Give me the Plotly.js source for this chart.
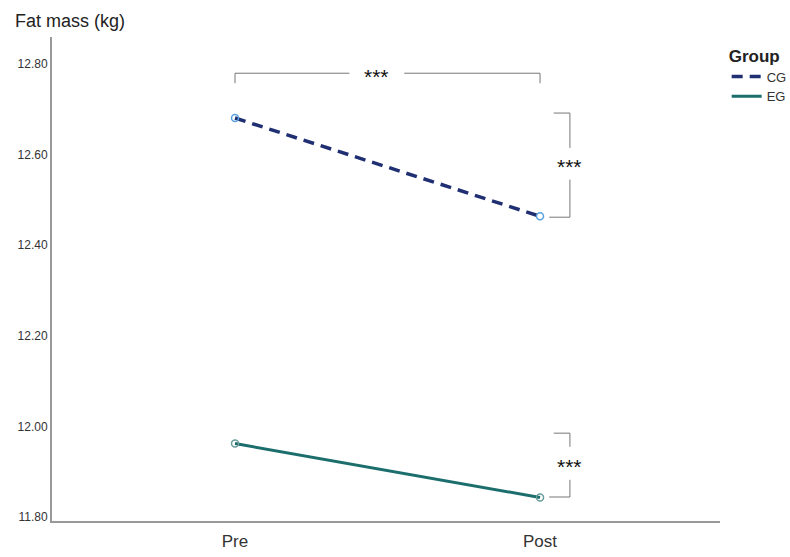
<!DOCTYPE html>
<html>
<head>
<meta charset="utf-8">
<script src="https://cdn.plot.ly/plotly-3.0.1.min.js"></script>
<style>html,body{margin:0;padding:0;background:#fff;}#chart{width:790px;height:557px;}</style>
</head>
<body>
<div id="chart"></div>
<script>
const timepoints = ["Pre", "Post"];
const groups = ["CG", "EG"];
const cgValues = [12.681, 12.464];
const egValues = [11.962, 11.843];
const yTickVals = [11.80, 12.00, 12.20, 12.40, 12.60, 12.80];
const yTickText = ["11.80", "12.00", "12.20", "12.40", "12.60", "12.80"];
const sigLabel = "***";

const font = "Liberation Sans, Arial, sans-serif";
const cgLine = {color: "#1f2f72", width: 3.5, dash: "11px,7px"};
const egLine = {color: "#1b6e6c", width: 3};

const traces = [
  {x: [0, 1], y: cgValues, name: groups[0], type: "scatter", mode: "lines", line: cgLine},
  {x: [0, 1], y: egValues, name: groups[1], type: "scatter", mode: "lines", line: egLine},
  {x: [0, 1], y: cgValues, name: groups[0], type: "scatter", mode: "markers", showlegend: false,
   marker: {symbol: "circle-open", size: 7, color: "#5aa0e0", line: {width: 1.5}}},
  {x: [0, 1], y: egValues, name: groups[1], type: "scatter", mode: "markers", showlegend: false,
   marker: {symbol: "circle-open", size: 7, color: "#6a9c9c", line: {width: 1.5}}}
];

const lc = {color: "#777", width: 1};
const topY = 12.780, topDrop = 12.758;
const bx = 1.098, bTick = 1.045;
const cgTop = cgValues[0] + 0.011, cgBot = cgValues[1] - 0.002;
const egTop = egValues[0] + 0.023, egBot = egValues[1] + 0.001;
const shapes = [
  {type: "line", x0: 0, x1: 0, y0: topDrop, y1: topY, line: lc},
  {type: "line", x0: 0, x1: 0.375, y0: topY, y1: topY, line: lc},
  {type: "line", x0: 0.555, x1: 1, y0: topY, y1: topY, line: lc},
  {type: "line", x0: 1, x1: 1, y0: topY, y1: topDrop, line: lc},
  {type: "line", x0: bTick, x1: bx, y0: cgTop, y1: cgTop, line: lc},
  {type: "line", x0: bx, x1: bx, y0: cgTop, y1: 12.615, line: lc},
  {type: "line", x0: bx, x1: bx, y0: 12.545, y1: cgBot, line: lc},
  {type: "line", x0: bx, x1: 1.03, y0: cgBot, y1: cgBot, line: lc},
  {type: "line", x0: bTick, x1: bx, y0: egTop, y1: egTop, line: lc},
  {type: "line", x0: bx, x1: bx, y0: egTop, y1: 11.955, line: lc},
  {type: "line", x0: bx, x1: bx, y0: 11.882, y1: egBot, line: lc},
  {type: "line", x0: 1.03, x1: bx, y0: egBot, y1: egBot, line: lc}
];

const annFont = {family: font, size: 21, color: "#111"};
const annotations = [
  {x: 0.465, y: topY, text: sigLabel, showarrow: false, font: annFont, xanchor: "center", yanchor: "middle", yshift: -3},
  {x: bx, y: 12.58, text: sigLabel, showarrow: false, font: annFont, xanchor: "center", yanchor: "middle", yshift: -3},
  {x: bx, y: 11.918, text: sigLabel, showarrow: false, font: annFont, xanchor: "center", yanchor: "middle", yshift: -3},
  {x: 0, y: 1, xref: "paper", yref: "paper", text: "Fat mass (kg)", showarrow: false,
   xanchor: "left", yanchor: "bottom", xshift: -39, yshift: 4,
   font: {family: font, size: 18, color: "#222"}}
];

const layout = {
  width: 790, height: 557,
  margin: {l: 52, r: 70, t: 37, b: 36, autoexpand: false},
  paper_bgcolor: "#fff", plot_bgcolor: "#fff",
  font: {family: font, color: "#333"},
  xaxis: {
    range: [-0.6, 1.59], tickvals: [0, 1], ticktext: timepoints,
    showgrid: false, zeroline: false, showline: true, linecolor: "#999", linewidth: 2,
    ticks: "", ticklabelstandoff: 4, tickfont: {family: font, size: 17, color: "#333"}
  },
  yaxis: {
    range: [11.791, 12.86], tickvals: yTickVals, ticktext: yTickText,
    showgrid: false, zeroline: false, showline: true, linecolor: "#999", linewidth: 2,
    ticks: "", tickfont: {family: font, size: 12, color: "#333"}
  },
  showlegend: true,
  legend: {
    x: 1.01, y: 0.995, xanchor: "left", yanchor: "top",
    title: {text: "<b>Group</b>", font: {family: font, size: 17, color: "#222"}},
    font: {family: font, size: 13, color: "#333"},
    itemwidth: 30, tracegroupgap: 0
  },
  shapes: shapes,
  annotations: annotations
};

Plotly.newPlot("chart", traces, layout, {displayModeBar: false, staticPlot: true});
</script>
</body>
</html>
